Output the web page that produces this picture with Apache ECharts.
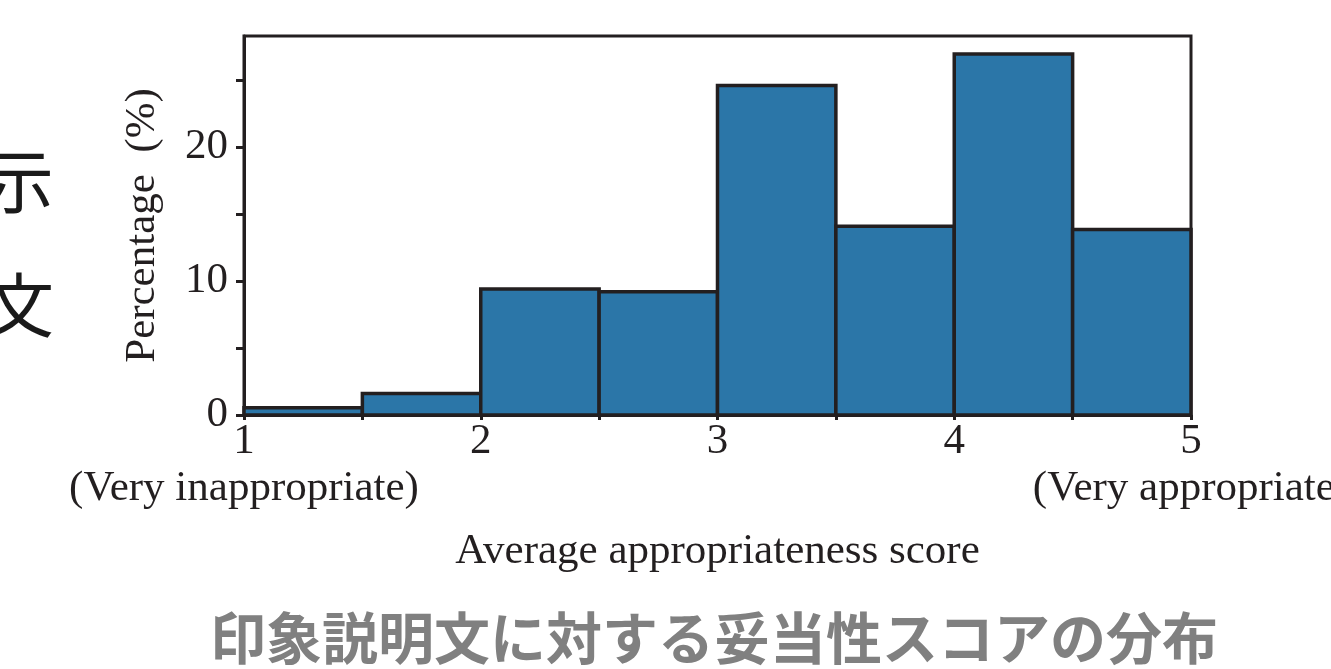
<!DOCTYPE html>
<html>
<head>
<meta charset="utf-8">
<script src="https://cdn.jsdelivr.net/npm/echarts@6/dist/echarts.min.js"></script>
<style>
  html, body { margin: 0; padding: 0; background: #ffffff; }
  #chart { width: 1331px; height: 669px; }
</style>
</head>
<body>
<div id="chart"></div>
<script>
// Histogram bins of the average appropriateness score (bin width 0.5)
const binStarts = [1.0, 1.5, 2.0, 2.5, 3.0, 3.5, 4.0, 4.5];
const binEnds   = [1.5, 2.0, 2.5, 3.0, 3.5, 4.0, 4.5, 5.0];
const percentages = [0.55, 1.6, 9.4, 9.2, 24.6, 14.1, 26.95, 13.85];

// Axis ticks and labels
const xTickValues = [1, 1.5, 2, 2.5, 3, 3.5, 4, 4.5, 5];
const xLabelValues = [1, 2, 3, 4, 5];
const xLabelNotes = { 1: '(Very inappropriate)', 5: '(Very appropriate)' };
const yTickValues = [0, 5, 10, 15, 20, 25];
const yLabelValues = [0, 10, 20];

const xAxisTitle = 'Average appropriateness score';
const yAxisTitle = 'Percentage  (%)';
const caption = '印象説明文に対する妥当性スコアの分布';
const sideChars = ['示', '文'];

const INK = '#231f20';
const SERIF = '"Liberation Serif", "DejaVu Serif", serif';
const CJK = '"Noto Sans CJK JP", "Noto Sans CJK SC", sans-serif';
const FS = 43;

const histData = binStarts.map((s, i) => [s, binEnds[i], percentages[i]]);

const chart = echarts.init(document.getElementById('chart'), null, { renderer: 'canvas' });

chart.setOption({
  backgroundColor: '#ffffff',
  animation: false,
  grid: {
    left: 244, right: 140, top: 36, bottom: 254,
    outerBoundsMode: 'none',
    containLabel: false,
    show: true,
    borderColor: INK,
    borderWidth: 3,
    backgroundColor: 'transparent'
  },
  xAxis: {
    type: 'value',
    min: 1,
    max: 5,
    name: xAxisTitle,
    nameLocation: 'middle',
    nameGap: 115,
    nameTextStyle: { fontFamily: SERIF, fontSize: FS, color: INK },
    axisLine: { show: true, onZero: false, lineStyle: { color: INK, width: 3 } },
    axisTick: {
      show: true, inside: false, length: 5,
      customValues: xTickValues,
      lineStyle: { color: INK, width: 3 }
    },
    axisLabel: {
      customValues: xLabelValues,
      margin: 3,
      fontFamily: SERIF,
      fontSize: FS,
      lineHeight: 47,
      color: INK,
      hideOverlap: false,
      formatter: function (v) {
        const note = xLabelNotes[v];
        return note ? v + '\n' + note : String(v);
      }
    },
    splitLine: { show: false }
  },
  yAxis: {
    type: 'value',
    min: 0,
    max: 28.3,
    name: yAxisTitle,
    nameLocation: 'middle',
    nameRotate: 90,
    nameGap: 80,
    nameTextStyle: { fontFamily: SERIF, fontSize: FS, color: INK },
    axisLine: { show: true, lineStyle: { color: INK, width: 3 } },
    axisTick: {
      show: true, inside: false, length: 8,
      customValues: yTickValues,
      lineStyle: { color: INK, width: 3 }
    },
    axisLabel: {
      customValues: yLabelValues,
      margin: 16,
      fontFamily: SERIF,
      fontSize: FS,
      color: INK
    },
    splitLine: { show: false }
  },
  series: [{
    type: 'custom',
    data: histData,
    encode: { x: [0, 1], y: 2 },
    renderItem: function (params, api) {
      const topLeft = api.coord([api.value(0), api.value(2)]);
      const bottomRight = api.coord([api.value(1), 0]);
      return {
        type: 'rect',
        shape: {
          x: topLeft[0],
          y: topLeft[1],
          width: bottomRight[0] - topLeft[0],
          height: bottomRight[1] - topLeft[1]
        },
        style: { fill: '#2b76a8', stroke: INK, lineWidth: 3.5 }
      };
    }
  }],
  graphic: [
    {
      type: 'text', right: 1331 - 54, top: 146,
      style: { text: sideChars[0], fontFamily: CJK, fontSize: 70, fill: '#1a1a1a' }
    },
    {
      type: 'text', right: 1331 - 54, top: 270,
      style: { text: sideChars[1], fontFamily: CJK, fontSize: 70, fill: '#1a1a1a' }
    },
    {
      type: 'text', left: 210, top: 610,
      style: { text: caption, fontFamily: CJK, fontSize: 56, fontWeight: 'bold', fill: '#808080' }
    }
  ]
});
</script>
</body>
</html>
